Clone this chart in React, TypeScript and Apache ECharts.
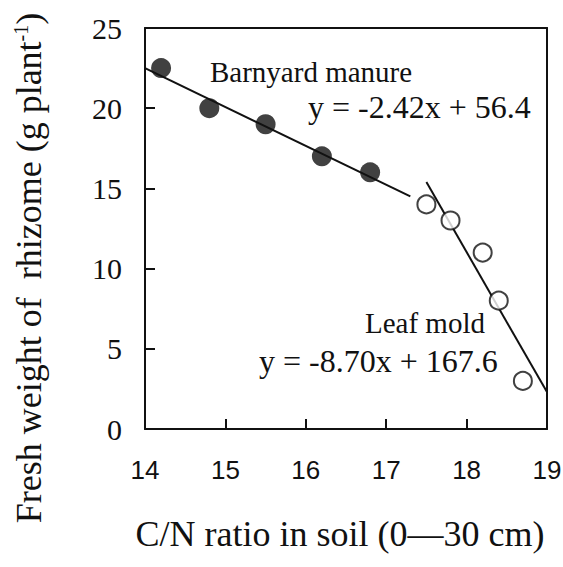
import React, { useEffect, useRef } from "react";
import * as echarts from "echarts";

const barnyardX = [14.2, 14.8, 15.5, 16.2, 16.8];
const barnyardY = [22.5, 20, 19, 17, 16];
const leafX = [17.5, 17.8, 18.2, 18.4, 18.7];
const leafY = [14, 13, 11, 8, 3];
const barnyardFit = [
  [14, 22.5],
  [17.3, 14.5],
];
const leafFit = [
  [17.5, 15.4],
  [19, 2.3],
];
const xTicks = [14, 15, 16, 17, 18, 19];
const yTicks = [0, 5, 10, 15, 20, 25];
const labels = {
  barnyard: "Barnyard manure",
  barnyardEq: "y = -2.42x + 56.4",
  leaf: "Leaf mold",
  leafEq: "y = -8.70x + 167.6",
  xTitle: "C/N ratio in soil (0\u201430 cm)",
  yTitle: "Fresh weight of  rhizome (g plant",
  yTitleSup: "-1",
};

const SERIF = "Liberation Serif";
const SANS = "Liberation Sans";
const INK = "#111111";

export default function App() {
  const ref = useRef<HTMLDivElement>(null);
  useEffect(() => {
    if (!ref.current) return;
    const chart = echarts.init(ref.current, undefined, { renderer: "svg" });
    const frameAxis = {
      type: "value",
      axisLine: { show: true, onZero: false, lineStyle: { color: INK, width: 2 } },
      axisTick: { show: false },
      axisLabel: { show: false },
      splitLine: { show: false },
    };
    chart.setOption({
      animation: false,
      backgroundColor: "#ffffff",
      grid: {
        left: 145,
        right: 16,
        top: 28,
        bottom: 138,
        containLabel: false,
        outerBoundsMode: "none",
      },
      xAxis: [
        {
          type: "value",
          min: xTicks[0],
          max: xTicks[xTicks.length - 1],
          interval: 1,
          axisLine: { show: true, onZero: false, lineStyle: { color: INK, width: 2 } },
          axisTick: { show: true, inside: true, length: 10, lineStyle: { color: INK, width: 2 } },
          axisLabel: { color: INK, fontFamily: SANS, fontSize: 26, margin: 28 },
          splitLine: { show: false },
          name: labels.xTitle,
          nameLocation: "middle",
          nameGap: 87,
          nameTextStyle: { color: INK, fontFamily: SERIF, fontSize: 36, padding: [0, 12, 0, 0] },
        },
        { ...frameAxis, position: "top", min: xTicks[0], max: xTicks[xTicks.length - 1] },
      ],
      yAxis: [
        {
          type: "value",
          min: yTicks[0],
          max: yTicks[yTicks.length - 1],
          interval: 5,
          axisLine: { show: true, onZero: false, lineStyle: { color: INK, width: 2 } },
          axisTick: { show: true, inside: true, length: 10, lineStyle: { color: INK, width: 2 } },
          axisLabel: { color: INK, fontFamily: SERIF, fontSize: 30, margin: 23 },
          splitLine: { show: false },
        },
        { ...frameAxis, position: "right", min: yTicks[0], max: yTicks[yTicks.length - 1] },
      ],
      series: [
        {
          type: "line",
          data: barnyardFit,
          symbol: "none",
          lineStyle: { color: INK, width: 2 },
          z: 1,
        },
        {
          type: "line",
          data: leafFit,
          symbol: "none",
          lineStyle: { color: INK, width: 2 },
          z: 1,
        },
        {
          type: "scatter",
          data: barnyardX.map((x, i) => [x, barnyardY[i]]),
          symbol: "circle",
          symbolSize: 20,
          itemStyle: { color: INK },
          z: 3,
        },
        {
          type: "scatter",
          data: leafX.map((x, i) => [x, leafY[i]]),
          symbol: "circle",
          symbolSize: 18,
          itemStyle: { color: "#ffffff", borderColor: INK, borderWidth: 2 },
          z: 3,
        },
      ],
      graphic: [
        {
          type: "text",
          x: 29,
          y: 268,
          rotation: Math.PI / 2,
          style: {
            text: `{a|${labels.yTitle}}{s|${labels.yTitleSup}}{a|)}`,
            align: "center",
            verticalAlign: "middle",
            textAlign: "center",
            textVerticalAlign: "middle",
            fill: INK,
            rich: {
              a: { fontFamily: SERIF, fontSize: 36, fill: INK, color: INK },
              s: {
                fontFamily: SERIF,
                fontSize: 20,
                fill: INK,
                color: INK,
                verticalAlign: "top",
                padding: [0, 0, 16, 0],
              },
            },
          },
        },
        {
          type: "text",
          left: 210,
          top: 72 - 15,
          style: { text: labels.barnyard, fontFamily: SERIF, fontSize: 29, fill: INK },
        },
        {
          type: "text",
          left: 308,
          top: 107 - 16,
          style: { text: labels.barnyardEq, fontFamily: SERIF, fontSize: 32, fill: INK },
        },
        {
          type: "text",
          left: 365,
          top: 323 - 15,
          style: { text: labels.leaf, fontFamily: SERIF, fontSize: 29, fill: INK },
        },
        {
          type: "text",
          left: 259,
          top: 361 - 16,
          style: { text: labels.leafEq, fontFamily: SERIF, fontSize: 32, fill: INK },
        },
      ],
    });
    return () => chart.dispose();
  }, []);
  return (
    <div
      ref={ref}
      style={{ position: "fixed", left: 0, top: 0, width: 563, height: 567, background: "#fff" }}
    />
  );
}
